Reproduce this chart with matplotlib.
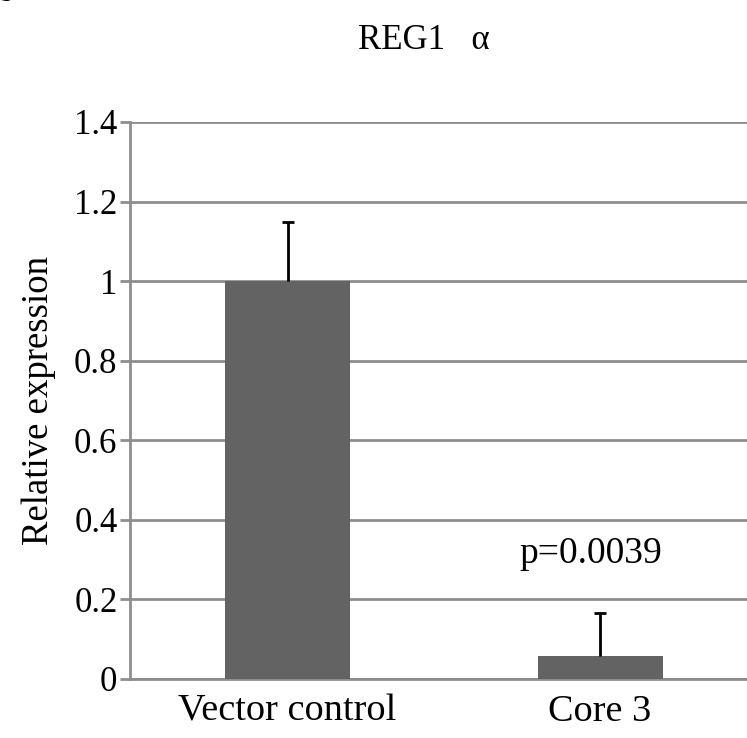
import matplotlib
matplotlib.use('Agg')
import matplotlib.pyplot as plt

# data
groups = ['Vector control', 'Core 3']
values = [1.0, 0.057]
errors = [0.148, 0.108]
yticks = [0, 0.2, 0.4, 0.6, 0.8, 1, 1.2, 1.4]
yticklabels = ['0', '0.2', '0.4', '0.6', '0.8', '1', '1.2', '1.4']
pvalue_text = 'p=0.0039'

plt.rcParams['font.family'] = ['Liberation Serif', 'DejaVu Serif']

fig = plt.figure(figsize=(7.47, 7.38), dpi=100)
ax = fig.add_axes([0.174, 0.080, 0.826, 0.7547])

gridgray = '#8e8e8e'
x = list(range(len(groups)))

ax.bar(x, values, width=0.4, color='#636363', zorder=3)

# upper error bars only (one cap on top)
tops = [v + e for v, e in zip(values, errors)]
ax.vlines(x, values, tops, color='black', linewidth=2, zorder=4)
ax.plot(x, tops, linestyle='none', marker='_', markersize=9,
        markeredgewidth=2, color='black', zorder=4)

ax.set_xlim(-0.504, 1.47)
ax.set_ylim(0, 1.4)
ax.set_yticks(yticks)
ax.set_yticklabels(yticklabels, fontsize=25)
ax.set_xticks(x)
ax.set_xticklabels(groups, fontsize=27.5)

ax.tick_params(axis='y', length=7, width=2, color=gridgray, pad=2)
ax.tick_params(axis='x', length=0, pad=11)

ax.yaxis.grid(True, color=gridgray, linewidth=2, zorder=0)
ax.set_axisbelow(True)

for s in ['top', 'right']:
    ax.spines[s].set_visible(False)
for s in ['left', 'bottom']:
    ax.spines[s].set_color(gridgray)
    ax.spines[s].set_linewidth(2)

ax.set_ylabel('Relative expression', fontsize=26.5, labelpad=13)
ax.text(0.97, 0.292, pvalue_text, ha='center', va='baseline', fontsize=27)

fig.text(0.568, 0.945, 'REG1   α', ha='center', va='center', fontsize=25)
fig.text(0.0, 0.999, 'b', ha='left', va='baseline', fontsize=20)

fig.savefig('out.png', dpi=100)
